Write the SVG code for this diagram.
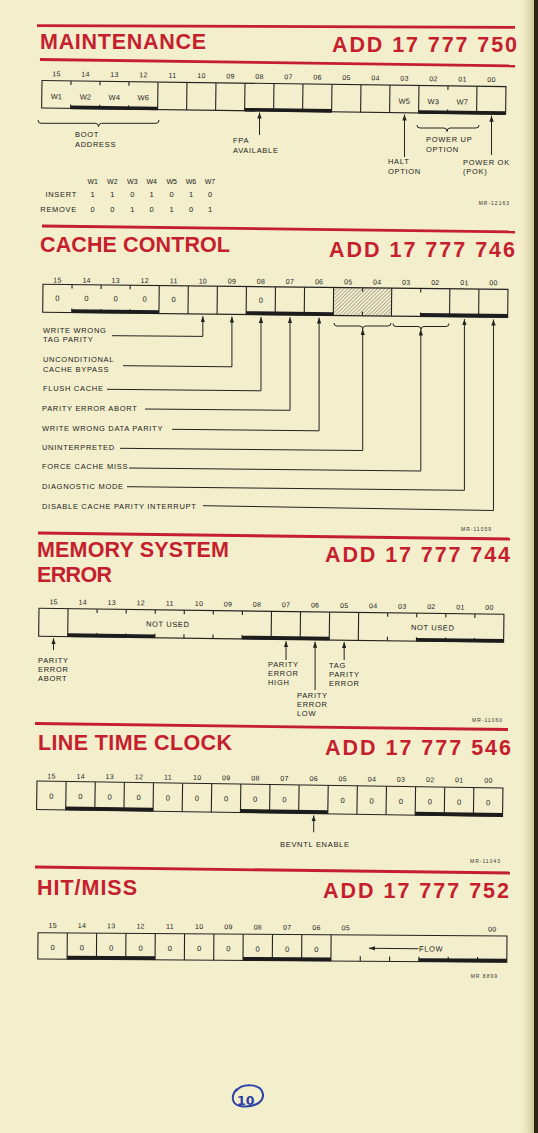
<svg xmlns="http://www.w3.org/2000/svg" width="538" height="1133" viewBox="0 0 538 1133">
<defs>
<style>
text{font-family:"Liberation Sans",Arial,Helvetica,sans-serif;fill:#222}
.t{font-weight:bold;font-size:21.5px;fill:#c51f2f}
.b{font-size:7px;letter-spacing:.3px;text-anchor:middle}
.c{font-size:7.5px;text-anchor:middle}
.l{font-size:7.5px;letter-spacing:.7px}
.m{font-size:5px;letter-spacing:1px;text-anchor:end;fill:#333}
.r{stroke:#c51f2f;stroke-width:2.8}
.bx{fill:none;stroke:#222;stroke-width:1.1}
.g{stroke:#222;stroke-width:1.1;fill:none}
.bar{fill:#1c1c1c}
.cn{fill:none;stroke:#222;stroke-width:1}
.ar{marker-end:url(#ah)}
</style>
<marker id="ah" viewBox="0 0 6 4.4" refX="6" refY="2.2" markerWidth="6" markerHeight="4.4" orient="auto" markerUnits="userSpaceOnUse"><path d="M0,0L6,2.2L0,4.4z" fill="#222"/></marker>
<pattern id="hatch" width="2.6" height="2.6" patternUnits="userSpaceOnUse" patternTransform="rotate(45)"><line x1="0" y1="0" x2="0" y2="2.6" stroke="#444" stroke-width="0.75"/></pattern>
<linearGradient id="edge" x1="0" y1="0" x2="1" y2="0"><stop offset="0" stop-color="#f3eecb" stop-opacity="0"/><stop offset="1" stop-color="#cfc598"/></linearGradient>
</defs>
<rect width="538" height="1133" fill="#f3eecb"/>
<rect x="518" y="0" width="16" height="1133" fill="url(#edge)"/>
<rect x="534" y="0" width="4" height="1133" fill="#2e2614"/>

<!-- MAINTENANCE -->
<g id="maintenance">
<line class="r" x1="37" y1="25.7" x2="515" y2="27.3"/>
<text class="t" x="40" y="49" textLength="166">MAINTENANCE</text>
<text class="t" x="517" y="52" text-anchor="end" textLength="185">ADD 17 777 750</text>
<line class="r" x1="40" y1="59.5" x2="515" y2="66"/>
<g transform="rotate(0.76 42 80.5)">
<g class="bits">
<text class="b" x="56.5" y="76">15</text><text class="b" x="85.5" y="76">14</text><text class="b" x="114.5" y="76">13</text><text class="b" x="143.5" y="76">12</text>
<text class="b" x="172.5" y="76">11</text><text class="b" x="201.5" y="76">10</text><text class="b" x="230.5" y="76">09</text><text class="b" x="259.5" y="76">08</text>
<text class="b" x="288.5" y="76">07</text><text class="b" x="317.5" y="76">06</text><text class="b" x="346.5" y="76">05</text><text class="b" x="375.5" y="76">04</text>
<text class="b" x="404.5" y="76">03</text><text class="b" x="433.5" y="76">02</text><text class="b" x="462.5" y="76">01</text><text class="b" x="491.5" y="76">00</text>
</g>
<rect class="bx" x="42" y="80.5" width="464" height="27.5"/>
<path class="g" d="M158,80.5V108M187,80.5V108M216,80.5V108M245,80.5V108M274,80.5V108M303,80.5V108M332,80.5V108M361,80.5V108M390,80.5V108M419,80.5V108M477,80.5V108"/>
<path class="g" d="M71,80.5v4M100,80.5v4M129,80.5v4M448,80.5v4M71,108v-4M100,108v-4M129,108v-4M448,108v-4"/>
<rect class="bar" x="71" y="105.2" width="87" height="3.6"/>
<rect class="bar" x="245" y="105.2" width="87" height="3.6"/>
<rect class="bar" x="419" y="105.2" width="87" height="3.6"/>
<text class="c" x="56.5" y="99">W1</text><text class="c" x="85.5" y="99">W2</text><text class="c" x="114.5" y="99">W4</text><text class="c" x="143.5" y="99">W6</text>
<text class="c" x="404.5" y="99">W5</text><text class="c" x="433.5" y="99">W3</text><text class="c" x="462.5" y="99">W7</text>
</g>
<text class="l" x="75" y="137">BOOT</text><text class="l" x="75" y="147">ADDRESS</text>
<text class="l" x="233" y="143">FPA</text><text class="l" x="233" y="153">AVAILABLE</text>
<text class="l" x="388" y="164">HALT</text><text class="l" x="388" y="174">OPTION</text>
<text class="l" x="426" y="142">POWER UP</text><text class="l" x="426" y="152">OPTION</text>
<text class="l" x="463" y="165">POWER OK</text><text class="l" x="463" y="174">(POK)</text>
<g id="jumper-table">
<text class="c" style="font-size:7px" x="92.7" y="184">W1</text><text class="c" style="font-size:7px" x="112.3" y="184">W2</text><text class="c" style="font-size:7px" x="132.3" y="184">W3</text><text class="c" style="font-size:7px" x="151.7" y="184">W4</text><text class="c" style="font-size:7px" x="171.7" y="184">W5</text><text class="c" style="font-size:7px" x="191" y="184">W6</text><text class="c" style="font-size:7px" x="210" y="184">W7</text>
<text class="l" x="77" y="197" text-anchor="end">INSERT</text>
<text class="l" x="77" y="212" text-anchor="end">REMOVE</text>
<text class="c" x="92.7" y="197">1</text><text class="c" x="112.3" y="197">1</text><text class="c" x="132.3" y="197">0</text><text class="c" x="151.7" y="197">1</text><text class="c" x="171.7" y="197">0</text><text class="c" x="191" y="197">1</text><text class="c" x="210" y="197">0</text>
<text class="c" x="92.7" y="212">0</text><text class="c" x="112.3" y="212">0</text><text class="c" x="132.3" y="212">1</text><text class="c" x="151.7" y="212">0</text><text class="c" x="171.7" y="212">1</text><text class="c" x="191" y="212">0</text><text class="c" x="210" y="212">1</text>
</g>
<text class="m" x="510" y="205">MR-12163</text>
</g>

<!-- CACHE CONTROL -->
<g id="cache-control">
<line class="r" x1="42" y1="226" x2="515" y2="232"/>
<text class="t" x="40" y="252" textLength="190">CACHE CONTROL</text>
<text class="t" x="515" y="257" text-anchor="end" textLength="186">ADD 17 777 746</text>
<g transform="rotate(0.37 57.5 282.5)">
<text class="b" x="57.53" y="282.5">15</text><text class="b" x="86.59" y="282.5">14</text><text class="b" x="115.66" y="282.5">13</text><text class="b" x="144.72" y="282.5">12</text>
<text class="b" x="173.78" y="282.5">11</text><text class="b" x="202.84" y="282.5">10</text><text class="b" x="231.91" y="282.5">09</text><text class="b" x="260.97" y="282.5">08</text>
<text class="b" x="290.03" y="282.5">07</text><text class="b" x="319.09" y="282.5">06</text><text class="b" x="348.16" y="282.5">05</text><text class="b" x="377.22" y="282.5">04</text>
<text class="b" x="406.28" y="282.5">03</text><text class="b" x="435.34" y="282.5">02</text><text class="b" x="464.41" y="282.5">01</text><text class="b" x="493.47" y="282.5">00</text>
</g>
<g transform="rotate(0.62 43 284.3)">
<rect x="333.63" y="284.3" width="58.12" height="28" fill="url(#hatch)"/>
<rect class="bx" x="43" y="284.3" width="465" height="28"/>
<path class="g" d="M159.25,284.3V312.3M188.31,284.3V312.3M217.38,284.3V312.3M246.44,284.3V312.3M275.5,284.3V312.3M304.56,284.3V312.3M333.63,284.3V312.3M391.75,284.3V312.3M449.88,284.3V312.3M478.94,284.3V312.3"/>
<path class="g" d="M72.06,284.3v4M101.13,284.3v4M130.19,284.3v4M362.69,284.3v4M420.81,284.3v4M72.06,312.3v-4M101.13,312.3v-4M130.19,312.3v-4M362.69,312.3v-4M420.81,312.3v-4"/>
<rect class="bar" x="72.06" y="309" width="87.19" height="3.6"/>
<rect class="bar" x="246.44" y="309" width="87.19" height="3.6"/>
<rect class="bar" x="420.81" y="309" width="87.19" height="3.6"/>
<text class="c" x="57.53" y="300.5">0</text><text class="c" x="86.59" y="300.5">0</text><text class="c" x="115.66" y="300.5">0</text><text class="c" x="144.72" y="300.5">0</text><text class="c" x="173.78" y="300.5">0</text><text class="c" x="260.97" y="300.5">0</text>
</g>
<text class="l" x="43" y="333">WRITE WRONG</text><text class="l" x="43" y="342">TAG PARITY</text>
<text class="l" x="43" y="362">UNCONDITIONAL</text><text class="l" x="43" y="372">CACHE BYPASS</text>
<text class="l" x="43" y="391">FLUSH CACHE</text>
<text class="l" x="42" y="411">PARITY ERROR ABORT</text>
<text class="l" x="42" y="431">WRITE WRONG DATA PARITY</text>
<text class="l" x="42" y="450">UNINTERPRETED</text>
<text class="l" x="42" y="469.3">FORCE CACHE MISS</text>
<text class="l" x="42" y="489">DIAGNOSTIC MODE</text>
<text class="l" x="42" y="509">DISABLE CACHE PARITY INTERRUPT</text>
<text class="m" x="492" y="531">MR-11059</text>
</g>

<!-- MEMORY SYSTEM ERROR -->
<g id="memory-system-error">
<line class="r" x1="38" y1="533" x2="510" y2="539"/>
<text class="t" x="37" y="557" textLength="192">MEMORY SYSTEM</text>
<text class="t" x="37" y="582" textLength="75">ERROR</text>
<text class="t" x="510" y="562" text-anchor="end" textLength="185">ADD 17 777 744</text>
<g transform="rotate(0.74 39 608.3)">
<text class="b" x="53.53" y="604">15</text><text class="b" x="82.59" y="604">14</text><text class="b" x="111.66" y="604">13</text><text class="b" x="140.72" y="604">12</text>
<text class="b" x="169.78" y="604">11</text><text class="b" x="198.84" y="604">10</text><text class="b" x="227.91" y="604">09</text><text class="b" x="256.97" y="604">08</text>
<text class="b" x="286.03" y="604">07</text><text class="b" x="315.09" y="604">06</text><text class="b" x="344.16" y="604">05</text><text class="b" x="373.22" y="604">04</text>
<text class="b" x="402.28" y="604">03</text><text class="b" x="431.34" y="604">02</text><text class="b" x="460.41" y="604">01</text><text class="b" x="489.47" y="604">00</text>
<rect class="bx" x="39" y="608.3" width="465" height="28"/>
<path class="g" d="M68.06,608.3V636.3M271.5,608.3V636.3M300.56,608.3V636.3M329.63,608.3V636.3M358.69,608.3V636.3"/>
<path class="g" d="M97.13,608.3v4M126.19,608.3v4M155.25,608.3v4M184.31,608.3v4M213.38,608.3v4M242.44,608.3v4M387.75,608.3v4M416.81,608.3v4M445.88,608.3v4M474.94,608.3v4M97.13,636.3v-4M126.19,636.3v-4M155.25,636.3v-4M184.31,636.3v-4M213.38,636.3v-4M242.44,636.3v-4M387.75,636.3v-4M416.81,636.3v-4M445.88,636.3v-4M474.94,636.3v-4"/>
<rect class="bar" x="68.06" y="633" width="87.19" height="3.6"/>
<rect class="bar" x="242.44" y="633" width="87.19" height="3.6"/>
<rect class="bar" x="416.81" y="633" width="87.19" height="3.6"/>
<text class="c" x="168" y="625.2" style="letter-spacing:.6px">NOT USED</text>
<text class="c" x="433" y="625.2" style="letter-spacing:.6px">NOT USED</text>
</g>
<text class="l" x="38" y="663.3">PARITY</text><text class="l" x="38" y="672.3">ERROR</text><text class="l" x="38" y="681">ABORT</text>
<text class="l" x="268" y="667.3">PARITY</text><text class="l" x="268" y="676">ERROR</text><text class="l" x="268" y="685">HIGH</text>
<text class="l" x="297" y="698.3">PARITY</text><text class="l" x="297" y="707.3">ERROR</text><text class="l" x="297" y="716">LOW</text>
<text class="l" x="329" y="668.3">TAG</text><text class="l" x="329" y="677.3">PARITY</text><text class="l" x="329" y="686.3">ERROR</text>
<text class="m" x="503" y="722">MR-11060</text>
</g>

<!-- LINE TIME CLOCK -->
<g id="line-time-clock">
<line class="r" x1="35" y1="723.5" x2="508" y2="729.5"/>
<text class="t" x="38" y="750" textLength="194">LINE TIME CLOCK</text>
<text class="t" x="511" y="755" text-anchor="end" textLength="186">ADD 17 777 546</text>
<g transform="rotate(0.55 51.56 778.5)">
<text class="b" x="51.56" y="778.5">15</text><text class="b" x="80.69" y="778.5">14</text><text class="b" x="109.81" y="778.5">13</text><text class="b" x="138.94" y="778.5">12</text>
<text class="b" x="168.06" y="778.5">11</text><text class="b" x="197.19" y="778.5">10</text><text class="b" x="226.31" y="778.5">09</text><text class="b" x="255.44" y="778.5">08</text>
<text class="b" x="284.56" y="778.5">07</text><text class="b" x="313.69" y="778.5">06</text><text class="b" x="342.81" y="778.5">05</text><text class="b" x="371.94" y="778.5">04</text>
<text class="b" x="401.06" y="778.5">03</text><text class="b" x="430.19" y="778.5">02</text><text class="b" x="459.31" y="778.5">01</text><text class="b" x="488.44" y="778.5">00</text>
</g>
<g transform="rotate(0.86 37 781)">
<rect class="bx" x="37" y="781" width="466" height="28.5"/>
<path class="g" d="M66.13,781V809.5M95.25,781V809.5M124.38,781V809.5M153.5,781V809.5M182.63,781V809.5M211.75,781V809.5M240.88,781V809.5M270,781V809.5M299.13,781V809.5M328.25,781V809.5M357.38,781V809.5M386.5,781V809.5M415.63,781V809.5M444.75,781V809.5M473.88,781V809.5"/>
<rect class="bar" x="66.13" y="806" width="87.37" height="3.7"/>
<rect class="bar" x="240.88" y="806" width="87.37" height="3.7"/>
<rect class="bar" x="415.63" y="806" width="87.37" height="3.7"/>
<text class="c" x="51.56" y="798.5">0</text><text class="c" x="80.69" y="798.5">0</text><text class="c" x="109.81" y="798.5">0</text><text class="c" x="138.94" y="798.5">0</text>
<text class="c" x="168.06" y="798.5">0</text><text class="c" x="197.19" y="798.5">0</text><text class="c" x="226.31" y="798.5">0</text><text class="c" x="255.44" y="798.5">0</text>
<text class="c" x="284.56" y="798.5">0</text><text class="c" x="342.81" y="798.5">0</text><text class="c" x="371.94" y="798.5">0</text><text class="c" x="401.06" y="798.5">0</text>
<text class="c" x="430.19" y="798.5">0</text><text class="c" x="459.31" y="798.5">0</text><text class="c" x="488.44" y="798.5">0</text>
</g>
<text class="l" x="280" y="846.7">BEVNTL ENABLE</text>
<text class="m" x="501" y="862.5">MR-11043</text>
</g>

<!-- HIT/MISS -->
<g id="hit-miss">
<line class="r" x1="35" y1="867" x2="510" y2="873"/>
<text class="t" x="37" y="895" textLength="100">HIT/MISS</text>
<text class="t" x="509" y="898" text-anchor="end" textLength="186">ADD 17 777 752</text>
<g transform="rotate(0.5 52.66 927.7)">
<text class="b" x="52.66" y="927.7">15</text><text class="b" x="81.97" y="927.7">14</text><text class="b" x="111.28" y="927.7">13</text><text class="b" x="140.59" y="927.7">12</text>
<text class="b" x="169.91" y="927.7">11</text><text class="b" x="199.22" y="927.7">10</text><text class="b" x="228.53" y="927.7">09</text><text class="b" x="257.84" y="927.7">08</text>
<text class="b" x="287.16" y="927.7">07</text><text class="b" x="316.47" y="927.7">06</text><text class="b" x="345.78" y="927.7">05</text><text class="b" x="492.3" y="927.7">00</text>
</g>
<g transform="rotate(0.4 38 932.7)">
<rect class="bx" x="38" y="932.7" width="469" height="26.3"/>
<path class="g" d="M67.31,932.7V959M96.63,932.7V959M125.94,932.7V959M155.25,932.7V959M184.56,932.7V959M213.88,932.7V959M243.19,932.7V959M272.5,932.7V959M301.81,932.7V959M331.13,932.7V959"/>
<path class="g" d="M360.44,959v-5M389.75,959v-5M419.06,959v-5M448.38,959v-5M477.69,959v-5"/>
<rect class="bar" x="67.31" y="955.5" width="87.94" height="3.7"/>
<rect class="bar" x="243.19" y="955.5" width="87.94" height="3.7"/>
<rect class="bar" x="419.06" y="955.5" width="87.94" height="3.7"/>
<text class="c" x="52.66" y="950">0</text><text class="c" x="81.97" y="950">0</text><text class="c" x="111.28" y="950">0</text><text class="c" x="140.59" y="950">0</text>
<text class="c" x="169.91" y="950">0</text><text class="c" x="199.22" y="950">0</text><text class="c" x="228.53" y="950">0</text><text class="c" x="257.84" y="950">0</text>
<text class="c" x="287.16" y="950">0</text><text class="c" x="316.47" y="950">0</text>
<path class="cn ar" d="M418.5,946H369"/>
<text class="l" x="419" y="948.8">FLOW</text>
</g>
<text class="m" x="498" y="978">MR 8899</text>
</g>

<!-- connectors -->
<g id="connectors">
<path class="cn ar" d="M259.5,135V112.5"/>
<path class="cn ar" d="M404.5,157V114.5"/>
<path class="cn ar" d="M491.5,155V115.7"/>
<path class="cn" d="M38,120Q38,123.3 41,123.3H95.5Q98.5,123.3 98.5,126.7Q98.5,123.3 101.5,123.3H156Q159,123.3 159,120"/>
<path class="cn" d="M417,125Q417,128 420,128H444Q447,128 447,131.5Q447,128 450,128H476Q479,128 479,125"/>

<path class="cn ar" d="M112,335.7L202.84,336.4V316.3"/>
<path class="cn ar" d="M123,365.7L231.91,366.8V316.6"/>
<path class="cn ar" d="M107,389.3L260.97,390.8V317"/>
<path class="cn ar" d="M145,409L290.03,410.3V317.3"/>
<path class="cn ar" d="M172,429.3L319.09,430.8V317.6"/>
<path class="cn ar" d="M120,448.3L362.7,450.5V329"/>
<path class="cn ar" d="M129,468L420.8,471V329.5"/>
<path class="cn ar" d="M127,486.7L464.41,490.3V319.2"/>
<path class="cn ar" d="M203,505.7L493.47,510.5V319.5"/>
<path class="cn" d="M334,323Q334,326 337,326H359.7Q362.7,326 362.7,329Q362.7,326 365.7,326H388Q391,326 391,323"/>
<path class="cn" d="M393,323.5Q393,326.5 396,326.5H418Q421,326.5 421,329.5Q421,326.5 424,326.5H446Q449,326.5 449,323.5"/>

<path class="cn ar" d="M53.53,650V638.3"/>
<path class="cn ar" d="M286.03,660V641.3"/>
<path class="cn ar" d="M315.09,690V641.7"/>
<path class="cn ar" d="M344.16,660V642"/>

<path class="cn ar" d="M313.69,832.3V815.4"/>
</g>

<!-- page number -->
<g id="page-number">
<path d="M236,1091C242,1083 261,1083 263,1094C264,1104 250,1108 240,1106C231,1104 231,1095 237,1089" fill="none" stroke="#2b40a8" stroke-width="2"/>
<text x="237" y="1105" style="font-family:'DejaVu Sans',sans-serif;font-size:12.5px;font-weight:bold;fill:#2b40a8">10</text>
</g>
</svg>
